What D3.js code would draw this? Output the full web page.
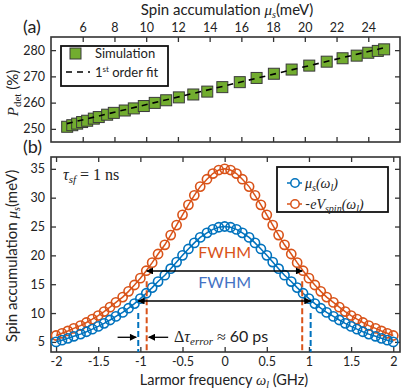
<!DOCTYPE html>
<html>
<head>
  <meta charset="utf-8">
  <script src="https://cdn.jsdelivr.net/npm/d3@7"></script>
  <style>
  body { margin: 0; background: #fff; }
  text { font-family: Lato, "Open Sans", sans-serif; fill: #222; }
  .math { font-family: "Liberation Serif", "DejaVu Serif", serif; font-style: italic; }
  .tick text { font-size: 12.5px; font-family: Lato, sans-serif; fill: #222; }
  .tick line { stroke: #333; stroke-width: 1.3; }
  .frame { fill: none; stroke: #333; stroke-width: 1.6; }
  .legend { fill: #fff; stroke: #111; stroke-width: 1.8; }
  </style>
</head>
<body>
<script>
// (a) simulated detection vs spin accumulation
var muSim = [5.02, 5.34, 5.65, 5.96, 6.28, 6.70, 7.01, 7.54, 7.96, 8.65, 9.22, 9.85, 10.54, 11.26, 12.06,
             12.97, 13.85, 14.8, 15.9, 16.96, 18.05, 19.17, 20.28, 21.38, 22.38, 23.27, 24.0, 24.6, 25.0];
var pSim = [250.8, 251.4, 252.0, 252.6, 253.1, 253.9, 254.5, 255.4, 256.1, 257.0, 257.8, 258.7, 259.9, 260.9, 262.0,
            263.1, 264.2, 265.9, 267.8, 269.4, 271.0, 272.6, 274.1, 275.6, 276.9, 277.9, 279.0, 279.7, 280.3];
var fitMu = [5.0, 25.2];
var fitP = [252.0, 281.2];
var topTicksX = [6, 8, 10, 12, 14, 16, 18, 20, 22, 24];
var topTicksY = [250, 260, 270, 280];

// (b) spin accumulation vs Larmor frequency
var omega = [-2, -1.93, -1.86, -1.79, -1.71, -1.64, -1.57, -1.5, -1.43, -1.36, -1.29, -1.21, -1.14, -1.07, -1,
             -0.93, -0.86, -0.79, -0.71, -0.64, -0.57, -0.5, -0.43, -0.36, -0.29, -0.21, -0.14, -0.07, 0,
             0.07, 0.14, 0.21, 0.29, 0.36, 0.43, 0.5, 0.57, 0.64, 0.71, 0.79, 0.86, 0.93,
             1, 1.07, 1.14, 1.21, 1.29, 1.36, 1.43, 1.5, 1.57, 1.64, 1.71, 1.79, 1.86, 1.93, 2];
var muS = [5.00, 5.30, 5.62, 5.97, 6.35, 6.76, 7.21, 7.69, 8.22, 8.80, 9.42, 10.11, 10.84, 11.64, 12.50,
           13.43, 14.41, 15.46, 16.56, 17.69, 18.84, 20.00, 21.11, 22.16, 23.11, 23.90, 24.50, 24.87, 25.00,
           24.87, 24.50, 23.90, 23.11, 22.16, 21.11, 20.00, 18.84, 17.69, 16.56, 15.46, 14.41, 13.43,
           12.50, 11.64, 10.84, 10.11, 9.42, 8.80, 8.22, 7.69, 7.21, 6.76, 6.35, 5.97, 5.62, 5.30, 5.00];
var eVspin = [6.11, 6.49, 6.90, 7.34, 7.83, 8.36, 8.94, 9.57, 10.26, 11.02, 11.85, 12.77, 13.76, 14.86, 16.05,
              17.34, 18.74, 20.24, 21.83, 23.52, 25.25, 27.03, 28.76, 30.41, 31.92, 33.20, 34.18, 34.79, 35.00,
              34.79, 34.18, 33.20, 31.92, 30.41, 28.76, 27.03, 25.25, 23.52, 21.83, 20.24, 18.74, 17.34,
              16.05, 14.86, 13.76, 12.77, 11.85, 11.02, 10.26, 9.57, 8.94, 8.36, 7.83, 7.34, 6.90, 6.49, 6.11];
var botTicksX = [-2, -1.5, -1, -0.5, 0, 0.5, 1, 1.5, 2];
var botTickLabels = ["-2", "-1.5", "-1", "-0.5", "0", "0.5", "1", "1.5", "2"];
var botTicksY = [5, 10, 15, 20, 25, 30, 35];
var fwhmOrange = [-0.925, 0.92];
var fwhmBlue = [-1.025, 1.02];

var blue = "#0072bd", orange = "#d95319";

var svg = d3.select("body").append("svg").attr("width", 408).attr("height", 390);

var defs = svg.append("defs");
defs.append("marker").attr("id", "arr")
    .attr("viewBox", "0 0 10 10").attr("refX", 9).attr("refY", 5)
    .attr("markerWidth", 9).attr("markerHeight", 7).attr("markerUnits", "userSpaceOnUse")
    .attr("orient", "auto-start-reverse")
  .append("path").attr("d", "M0,0L10,5L0,10Z").attr("fill", "#000");

// ---------- panel (a) ----------
var xa = d3.scaleLinear().domain([4, 26]).range([51, 400]);
var ya = d3.scaleLinear().domain([245, 285]).range([142, 37]);

svg.append("g").attr("transform", "translate(0,37)")
  .call(d3.axisTop(xa).tickValues(topTicksX).tickSize(-5).tickPadding(5));
svg.append("g").attr("transform", "translate(0,142)")
  .call(d3.axisBottom(xa).tickValues(topTicksX).tickSize(-5).tickFormat(""));
svg.append("g").attr("transform", "translate(51,0)")
  .call(d3.axisLeft(ya).tickValues(topTicksY).tickSize(-5).tickPadding(6));
svg.append("g").attr("transform", "translate(400,0)")
  .call(d3.axisRight(ya).tickValues(topTicksY).tickSize(-5).tickFormat(""));
svg.selectAll(".domain").remove();
svg.append("rect").attr("class", "frame").attr("x", 51).attr("y", 37).attr("width", 349).attr("height", 105);

svg.append("g").selectAll("rect.sim")
    .data(muSim.map(function(m, i) { return [m, pSim[i]]; }))
  .enter().append("rect")
    .attr("x", function(d) { return xa(d[0]) - 5.5; })
    .attr("y", function(d) { return ya(d[1]) - 5.5; })
    .attr("width", 11).attr("height", 11)
    .attr("fill", "#72ad2f").attr("stroke", "#3a3a3a").attr("stroke-width", 1);

svg.append("path")
  .datum(fitMu.map(function(m, i) { return [m, fitP[i]]; }))
  .attr("d", d3.line().x(function(d) { return xa(d[0]); }).y(function(d) { return ya(d[1]); }))
  .attr("fill", "none").attr("stroke", "#000").attr("stroke-width", 1.6).attr("stroke-dasharray", "6,5");

// legend (a)
svg.append("rect").attr("class", "legend").attr("x", 61).attr("y", 46).attr("width", 107).attr("height", 40);
svg.append("rect").attr("x", 70).attr("y", 48).attr("width", 11).attr("height", 11)
  .attr("fill", "#72ad2f").attr("stroke", "#3a3a3a");
svg.append("text").attr("x", 95).attr("y", 58).attr("font-size", 13).text("Simulation");
svg.append("line").attr("x1", 66).attr("x2", 90).attr("y1", 72).attr("y2", 72)
  .attr("stroke", "#000").attr("stroke-width", 1.6).attr("stroke-dasharray", "6,5");
var t1 = svg.append("text").attr("x", 95).attr("y", 77).attr("font-size", 13);
t1.append("tspan").text("1");
t1.append("tspan").attr("dy", -5).attr("font-size", 8).text("st");
t1.append("tspan").attr("dy", 5).text(" order fit");

// labels (a)
svg.append("text").attr("x", 23).attr("y", 33).attr("font-size", 18).text("(a)");
var xl = svg.append("text").attr("x", 227).attr("y", 15).attr("text-anchor", "middle").attr("font-size", 15);
xl.append("tspan").text("Spin accumulation ");
xl.append("tspan").attr("class", "math").text("μ");
xl.append("tspan").attr("class", "math").attr("dy", 3).attr("font-size", 10).text("s");
xl.append("tspan").attr("dy", -3).text("(meV)");

var yl = svg.append("text").attr("transform", "translate(18,93) rotate(-90)")
  .attr("text-anchor", "middle").attr("font-size", 15);
yl.append("tspan").attr("class", "math").text("P");
yl.append("tspan").attr("font-family", "Liberation Serif").attr("dy", 3).attr("font-size", 11).text("det");
yl.append("tspan").attr("dy", -3).text(" (%)");

// ---------- panel (b) ----------
var xb = d3.scaleLinear().domain([-2.06, 2.08]).range([51, 400]);
var yb = d3.scaleLinear().domain([3.25, 37.05]).range([352, 157]);

var gb = svg.append("g");
gb.append("g").attr("transform", "translate(0,352)")
  .call(d3.axisBottom(xb).tickValues(botTicksX).tickSize(-5).tickPadding(5)
    .tickFormat(function(d, i) { return botTickLabels[i]; }));
gb.append("g").attr("transform", "translate(0,157)")
  .call(d3.axisTop(xb).tickValues(botTicksX).tickSize(-5).tickFormat(""));
gb.append("g").attr("transform", "translate(51,0)")
  .call(d3.axisLeft(yb).tickValues(botTicksY).tickSize(-5).tickPadding(6));
gb.append("g").attr("transform", "translate(400,0)")
  .call(d3.axisRight(yb).tickValues(botTicksY).tickSize(-5).tickFormat(""));
gb.selectAll(".domain").remove();
gb.append("rect").attr("class", "frame").attr("x", 51).attr("y", 157).attr("width", 349).attr("height", 195);

function curve(vals, color) {
  var pts = omega.map(function(w, i) { return [w, vals[i]]; });
  gb.append("path").datum(pts)
    .attr("d", d3.line().x(function(d) { return xb(d[0]); }).y(function(d) { return yb(d[1]); }))
    .attr("fill", "none").attr("stroke", color).attr("stroke-width", 1.5);
  gb.append("g").selectAll("circle").data(pts).enter().append("circle")
    .attr("cx", function(d) { return xb(d[0]); })
    .attr("cy", function(d) { return yb(d[1]); })
    .attr("r", 4.6).attr("fill", "none").attr("stroke", color).attr("stroke-width", 1.6);
}
curve(eVspin, orange);
curve(muS, blue);

// FWHM annotations
fwhmOrange.forEach(function(w) {
  gb.append("line").attr("x1", xb(w)).attr("x2", xb(w)).attr("y1", yb(15.5)).attr("y2", yb(3.25))
    .attr("stroke", orange).attr("stroke-width", 2).attr("stroke-dasharray", "6,3");
});
fwhmBlue.forEach(function(w) {
  gb.append("line").attr("x1", xb(w)).attr("x2", xb(w)).attr("y1", yb(10)).attr("y2", yb(3.25))
    .attr("stroke", blue).attr("stroke-width", 2).attr("stroke-dasharray", "6,3");
});
gb.append("line").attr("x1", xb(fwhmOrange[0])).attr("x2", xb(fwhmOrange[1]))
  .attr("y1", yb(17.3)).attr("y2", yb(17.3))
  .attr("stroke", "#000").attr("stroke-width", 1.5)
  .attr("marker-start", "url(#arr)").attr("marker-end", "url(#arr)");
gb.append("line").attr("x1", xb(fwhmBlue[0])).attr("x2", xb(fwhmBlue[1]))
  .attr("y1", yb(12.1)).attr("y2", yb(12.1))
  .attr("stroke", "#000").attr("stroke-width", 1.5)
  .attr("marker-start", "url(#arr)").attr("marker-end", "url(#arr)");
gb.append("text").attr("x", xb(0)).attr("y", yb(19.5)).attr("text-anchor", "middle")
  .attr("font-size", 16).style("fill", orange).text("FWHM");
gb.append("text").attr("x", xb(0)).attr("y", yb(14.3)).attr("text-anchor", "middle")
  .attr("font-size", 16).style("fill", "#4472c4").text("FWHM");

// delta tau arrows
gb.append("line").attr("x1", xb(-1.27)).attr("x2", xb(fwhmBlue[0]) - 2).attr("y1", yb(5.8)).attr("y2", yb(5.8))
  .attr("stroke", "#000").attr("stroke-width", 1.3).attr("marker-end", "url(#arr)");
gb.append("line").attr("x1", xb(-0.67)).attr("x2", xb(fwhmOrange[0]) + 2).attr("y1", yb(5.8)).attr("y2", yb(5.8))
  .attr("stroke", "#000").attr("stroke-width", 1.3).attr("marker-end", "url(#arr)");
var dt = gb.append("text").attr("x", xb(-0.6)).attr("y", yb(5.8) + 5).attr("font-size", 16);
dt.append("tspan").attr("class", "math").style("font-style", "normal").text("Δ");
dt.append("tspan").attr("class", "math").text("τ");
dt.append("tspan").attr("class", "math").attr("dy", 3).attr("font-size", 11).text("error");
dt.append("tspan").attr("dy", -3).attr("font-family", "Liberation Serif").text(" ≈ ");
dt.append("tspan").text("60 ps");

// tau_sf
var ts = gb.append("text").attr("x", 63).attr("y", 180).attr("font-size", 16);
ts.append("tspan").attr("class", "math").text("τ");
ts.append("tspan").attr("class", "math").attr("dy", 3).attr("font-size", 11).text("sf");
ts.append("tspan").attr("dy", -3).attr("font-family", "Liberation Serif").text(" = 1 ns");

// legend (b)
gb.append("rect").attr("class", "legend").attr("x", 277).attr("y", 167).attr("width", 111).attr("height", 45);
[[blue, 183, "μ", "s"], [orange, 204, "-eV", "spin"]].forEach(function(e) {
  gb.append("line").attr("x1", 287).attr("x2", 302).attr("y1", e[1]).attr("y2", e[1])
    .attr("stroke", e[0]).attr("stroke-width", 1.5);
  gb.append("circle").attr("cx", 295).attr("cy", e[1]).attr("r", 4.2)
    .attr("fill", "#fff").attr("stroke", e[0]).attr("stroke-width", 1.5);
  var t = gb.append("text").attr("x", 305).attr("y", e[1] + 4.5).attr("font-size", 14);
  if (e[2] === "-eV") {
    t.append("tspan").text("-");
    t.append("tspan").attr("class", "math").text("eV");
  } else {
    t.append("tspan").attr("class", "math").text(e[2]);
  }
  t.append("tspan").attr("class", "math").attr("dy", 3).attr("font-size", 10).text(e[3]);
  t.append("tspan").attr("class", "math").attr("dy", -3).text("(ω");
  t.append("tspan").attr("class", "math").attr("dy", 3).attr("font-size", 10).text("l");
  t.append("tspan").attr("class", "math").attr("dy", -3).text(")");
});

// labels (b)
svg.append("text").attr("x", 23).attr("y", 153).attr("font-size", 18).text("(b)");
var bx = svg.append("text").attr("x", 224).attr("y", 385).attr("text-anchor", "middle").attr("font-size", 14.5);
bx.append("tspan").text("Larmor frequency ");
bx.append("tspan").attr("class", "math").text("ω");
bx.append("tspan").attr("class", "math").attr("dy", 3).attr("font-size", 10).text("l");
bx.append("tspan").attr("dy", -3).text(" (GHz)");

var by = svg.append("text").attr("transform", "translate(17,256) rotate(-90)")
  .attr("text-anchor", "middle").attr("font-size", 15);
by.append("tspan").text("Spin accumulation  ");
by.append("tspan").attr("class", "math").text("μ");
by.append("tspan").attr("class", "math").attr("dy", 3).attr("font-size", 10).text("s");
by.append("tspan").attr("dy", -3).text("(meV)");
</script>
</body>
</html>
